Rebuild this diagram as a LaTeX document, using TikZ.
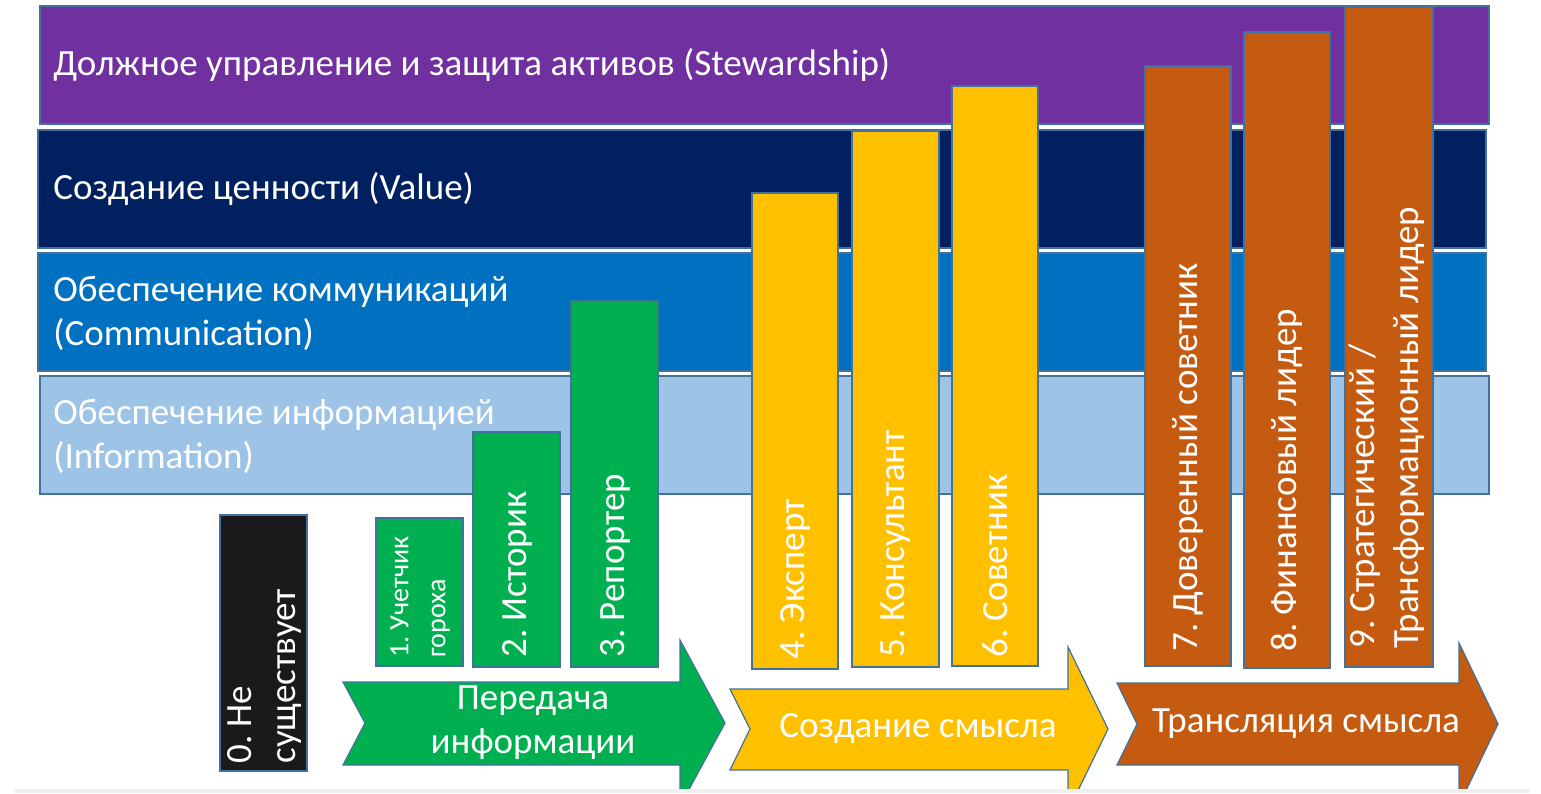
\documentclass[tikz,border=0pt]{standalone}
\usepackage{fontspec}
\setmainfont{Carlito}
\frenchspacing

\definecolor{stewpurple}{HTML}{7030A0}
\definecolor{valuenavy}{HTML}{002060}
\definecolor{commblue}{HTML}{0070C0}
\definecolor{infoblue}{HTML}{9DC3E6}
\definecolor{infogreen}{HTML}{00B050}
\definecolor{senseyellow}{HTML}{FFC000}
\definecolor{transorange}{HTML}{C55A11}
\definecolor{nonblack}{HTML}{1A1A1A}
\definecolor{edgeblue}{HTML}{41719C}
\definecolor{stripgray}{HTML}{EFEFEF}

\begin{document}
\begin{tikzpicture}[x=0.5pt, y=-0.5pt,
    box/.style={draw=edgeblue, line width=0.6pt},
    bandlabel/.style={anchor=west, inner sep=0pt, text=white, align=left,
      font=\fontsize{18.5}{22}\selectfont},
    barlabel/.style={rotate=90, anchor=west, inner sep=0pt, text=white, align=left,
      font=\fontsize{18.5}{22}\selectfont},
    flowlabel/.style={inner sep=0pt, text=white, align=center,
      font=\fontsize{18.5}{22}\selectfont}]

  \useasboundingbox (0,0) rectangle (1541,793);

  % Layers
  \draw[box, fill=stewpurple] (40,6) rectangle (1489,124);
  \draw[box, fill=valuenavy] (38,130) rectangle (1486,248);
  \draw[box, fill=commblue] (38,253) rectangle (1486,371);
  \draw[box, fill=infoblue] (40,376) rectangle (1489,494);

  \node[bandlabel] (stew) at (53,65) {Должное управление и защита активов (Stewardship)};
  \node[bandlabel] (value) at (53,189) {Создание ценности (Value)};
  \node[bandlabel] (comm) at (53,313) {Обеспечение коммуникаций\\(Communication)};
  \node[bandlabel] (info) at (53,436) {Обеспечение информацией\\(Information)};

  % Level 0
  \draw[box, fill=nonblack] (220,515) rectangle (307,771);
  \node[barlabel] (lvl0) at (265,764) {0. Не\\существует};

  % Passing information (green)
  \draw[box, fill=infogreen] (376,518) rectangle (463,666);
  \draw[box, fill=infogreen] (473,432) rectangle (560,667);
  \draw[box, fill=infogreen] (571,301) rectangle (658,667);
  \node[barlabel, font=\fontsize{14}{18.5}\selectfont] (lvl1) at (420,658) {1. Учетчик\\гороха};
  \node[barlabel] (lvl2) at (517,658) {2. Историк};
  \node[barlabel] (lvl3) at (615,658) {3. Репортер};

  % Making sense (yellow)
  \draw[box, fill=senseyellow] (752,193) rectangle (838,669);
  \draw[box, fill=senseyellow] (852,131) rectangle (939,667);
  \draw[box, fill=senseyellow] (952,86) rectangle (1038,666);
  \node[barlabel] (lvl4) at (795,660) {4. Эксперт};
  \node[barlabel] (lvl5) at (896,658) {5. Консультант};
  \node[barlabel] (lvl6) at (995,658) {6. Советник};

  % Translating sense (orange)
  \draw[box, fill=transorange] (1145,66) rectangle (1231,666);
  \draw[box, fill=transorange] (1244,32) rectangle (1330,668);
  \draw[box, fill=transorange] (1345,7) rectangle (1433,667);
  \node[barlabel] (lvl7) at (1188,652) {7. Доверенный советник};
  \node[barlabel] (lvl8) at (1287,652) {8. Финансовый лидер};
  \node[barlabel] (lvl9) at (1387,649) {9. Стратегический /\\Трансформационный лидер};

  % Stage arrows (cut off at the bottom edge)
  \begin{scope}
    \clip (0,0) rectangle (1541,789);
    \draw[box, fill=infogreen] (343,682) -- (680,682) -- (680,640) -- (725,723)
      -- (680,806) -- (680,765) -- (343,765) -- (365,723) -- cycle;
    \draw[box, fill=senseyellow] (730,689) -- (1068,689) -- (1068,647) -- (1108,729)
      -- (1068,811) -- (1068,770) -- (730,770) -- (750,729) -- cycle;
    \draw[box, fill=transorange] (1117,683) -- (1459,683) -- (1459,643) -- (1498,724)
      -- (1459,805) -- (1459,765) -- (1117,765) -- (1137,724) -- cycle;
  \end{scope}

  \node[flowlabel] (pass) at (533,723) {Передача\\информации};
  \node[flowlabel] (sense) at (918,729) {Создание смысла};
  \node[flowlabel] (trans) at (1306,724) {Трансляция смысла};

  % Bottom edge
  \fill[stripgray] (15,789) rectangle (1530,793);
\end{tikzpicture}
\end{document}
